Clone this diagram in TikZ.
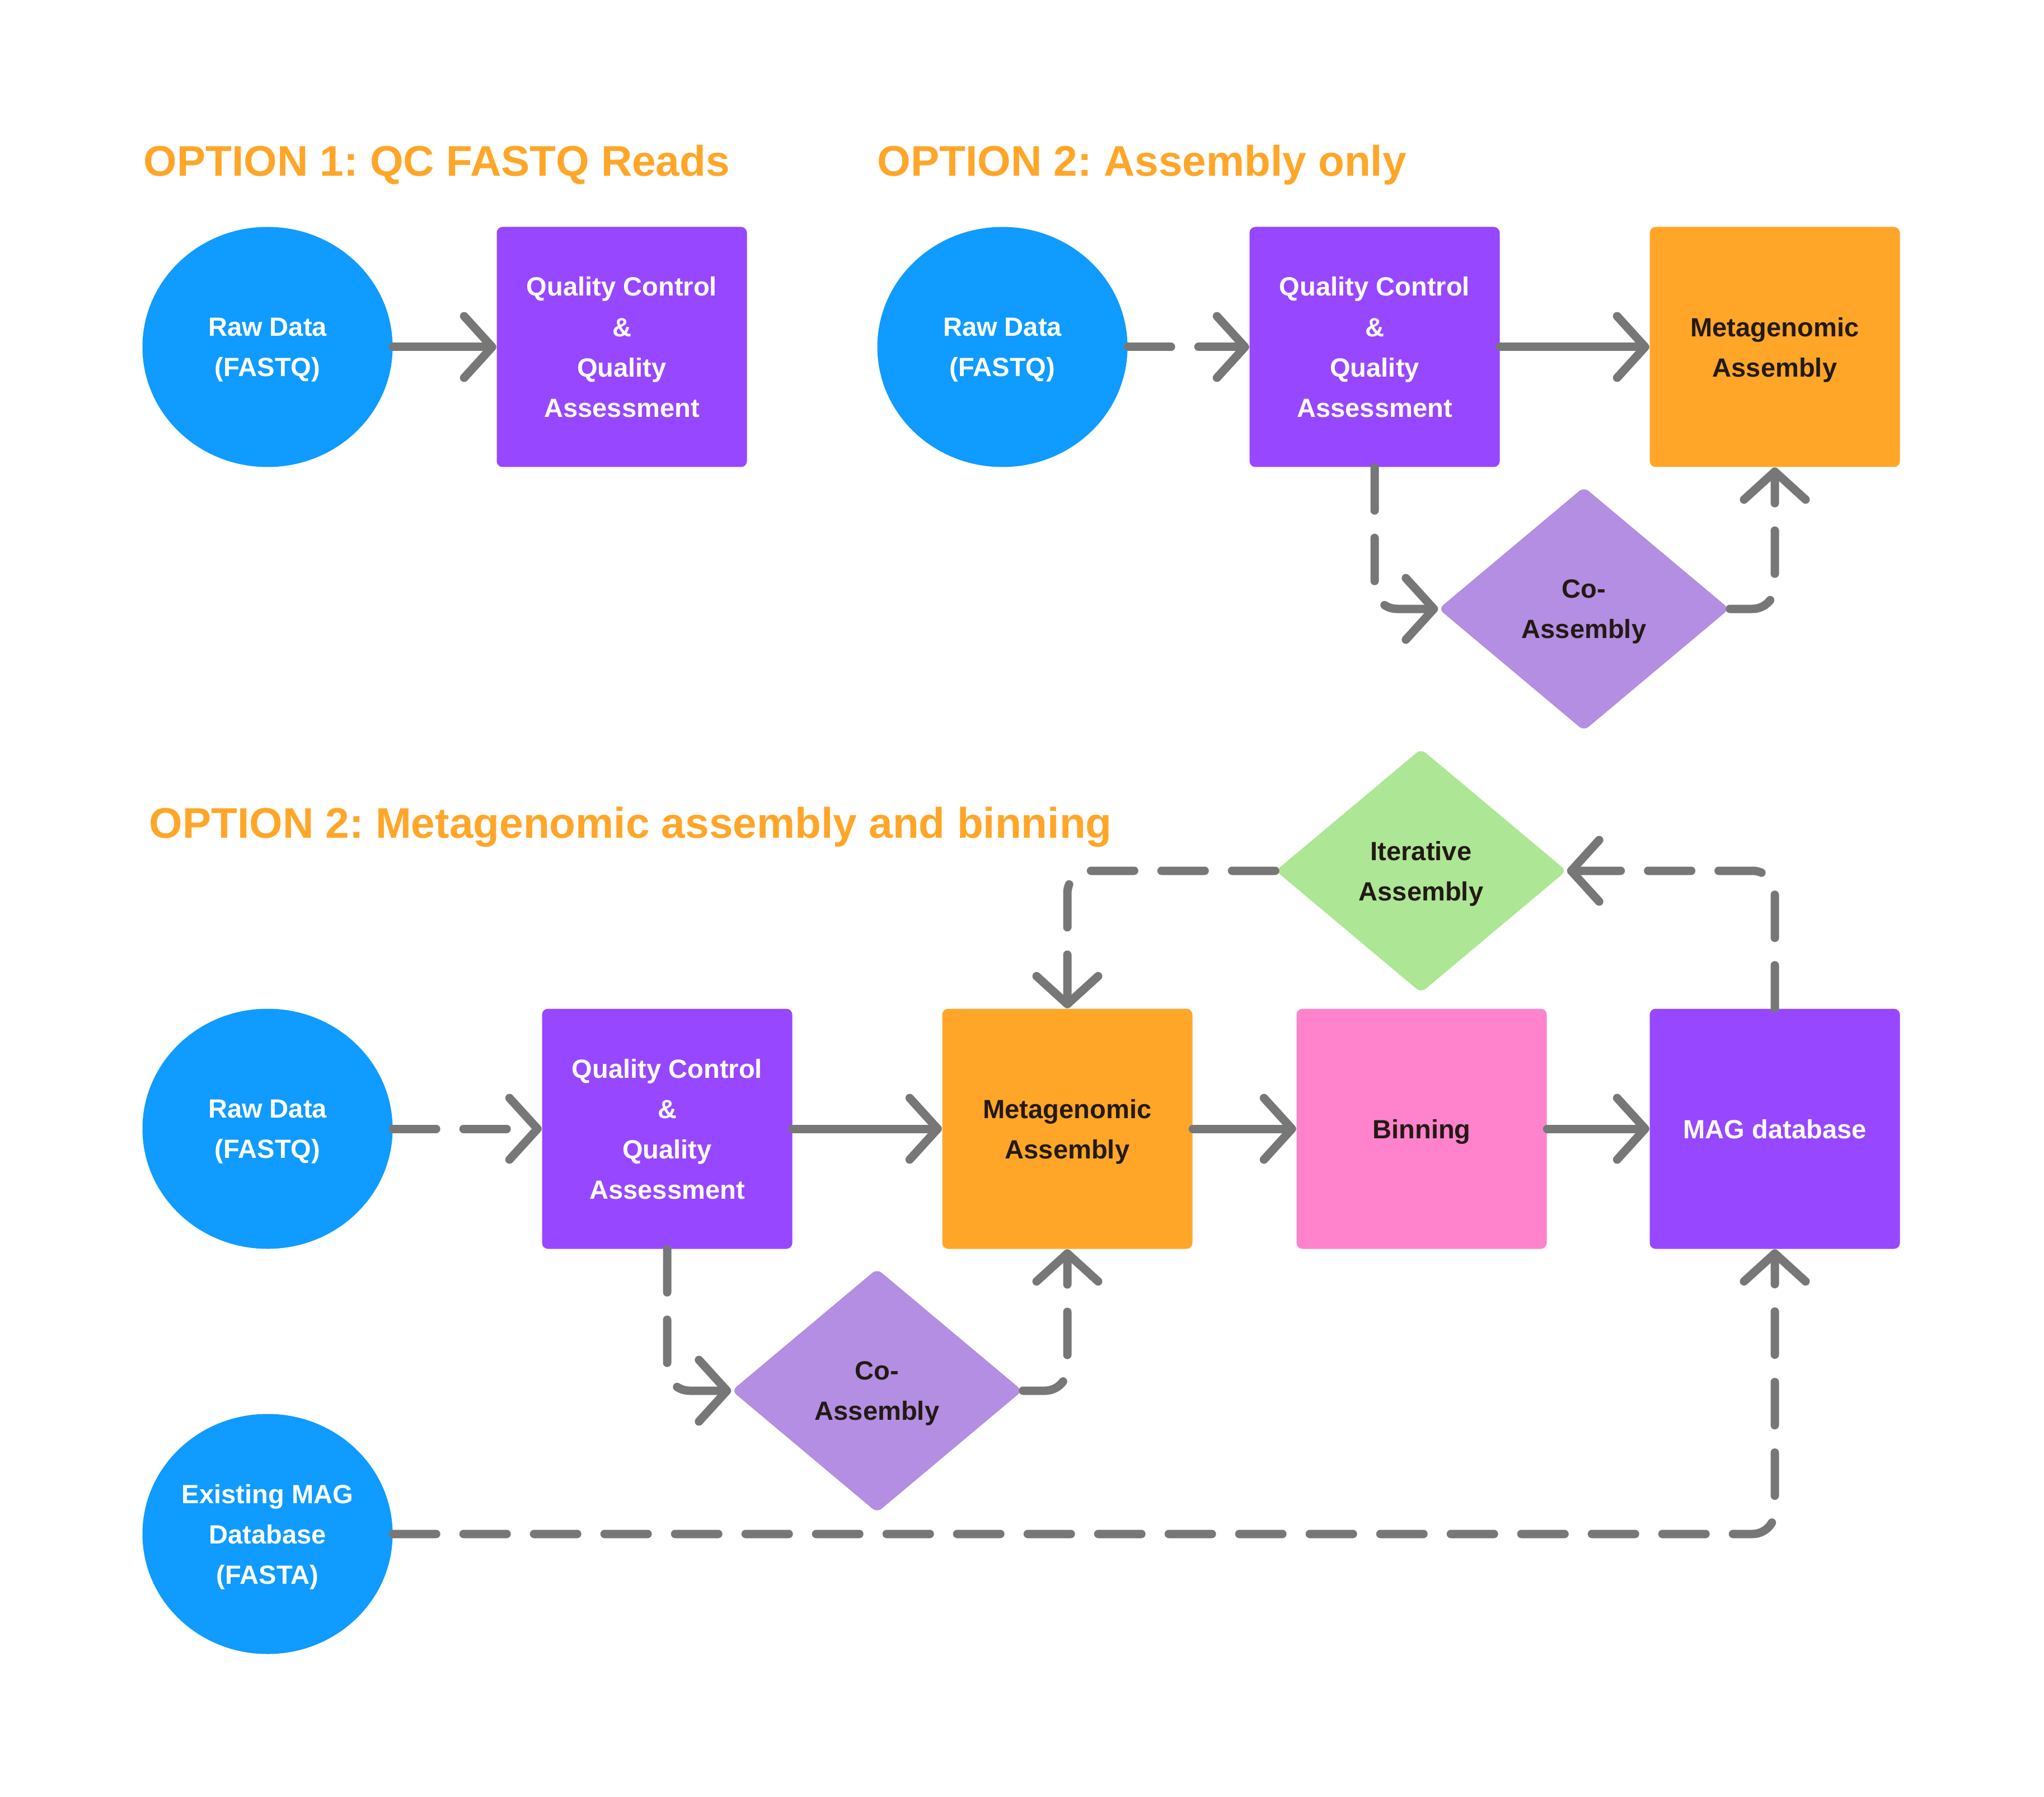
\documentclass[tikz,border=0pt]{standalone}
\usepackage{fontspec}
\setmainfont{Liberation Sans}
\usetikzlibrary{shapes.geometric,arrows.meta}
\definecolor{rawblue}{HTML}{0F9BFF}
\definecolor{qcpurple}{HTML}{9747FF}
\definecolor{asmorange}{HTML}{FFA629}
\definecolor{copurple}{HTML}{B38EE2}
\definecolor{itergreen}{HTML}{ADE694}
\definecolor{binpink}{HTML}{FF82CC}
\definecolor{linkgray}{HTML}{777777}
\definecolor{darktext}{HTML}{231A14}
\frenchspacing
\begin{document}
\begin{tikzpicture}[
  every node/.style={font=\bfseries\fontsize{13.4}{20.5}\selectfont, align=center, inner sep=0pt, text depth=0pt},
  source/.style={fill=rawblue, ellipse, minimum width=4.47cm, minimum height=4.29cm, text=white},
  stepbox/.style={fill=#1, rounded corners=3pt, minimum width=4.47cm, minimum height=4.29cm},
  choice/.style={fill=#1, diamond, rounded corners=3pt, minimum width=5.2cm, minimum height=4.36cm, text=darktext},
  heading/.style={anchor=west, text=asmorange, font=\bfseries\fontsize{21.8}{26}\selectfont},
  link/.style={draw=linkgray, line width=0.15cm, line cap=round, rounded corners=0.4cm, -{Straight Barb[length=0.5cm,width=1.1cm,round]}},
  dashlink/.style={link, dash pattern=on 0.77cm off 0.49cm}
]
\useasboundingbox (0,0) rectangle (36.52,-32.11);

% option 1
\node[heading] (t1) at (2.56,-2.87) {OPTION 1: QC FASTQ Reads};
\node[source] (c1) at (4.78,-6.20) {Raw Data\\(FASTQ)};
\node[stepbox=qcpurple, text=white] (qc1) at (11.11,-6.20) {Quality Control\\\&\\Quality\\Assessment};

\path[link] (c1) -- (qc1);

% option 2
\node[heading] (t2) at (15.67,-2.87) {OPTION 2: Assembly only};
\node[source] (c2) at (17.91,-6.20) {Raw Data\\(FASTQ)};
\node[stepbox=qcpurple, text=white] (qc2) at (24.56,-6.20) {Quality Control\\\&\\Quality\\Assessment};
\node[stepbox=asmorange, text=darktext] (ma2) at (31.71,-6.20) {Metagenomic\\Assembly};
\node[choice=copurple] (co2) at (28.30,-10.88) {Co-\\Assembly};

\path[dashlink] (c2) -- (qc2);
\path[link] (qc2) -- (ma2);
\path[dashlink] (qc2.south) |- (co2.west);
\path[dashlink] (co2.east) -| (ma2.south);

% option 2 with binning
\node[heading] (t3) at (2.66,-14.70) {OPTION 2: Metagenomic assembly and binning};
\node[choice=itergreen] (it) at (25.39,-15.56) {Iterative\\Assembly};
\node[source] (c3) at (4.78,-20.17) {Raw Data\\(FASTQ)};
\node[stepbox=qcpurple, text=white] (qc3) at (11.92,-20.17) {Quality Control\\\&\\Quality\\Assessment};
\node[stepbox=asmorange, text=darktext] (ma3) at (19.07,-20.17) {Metagenomic\\Assembly};
\node[stepbox=binpink, text=darktext] (bin) at (25.40,-20.17) {Binning};
\node[stepbox=qcpurple, text=white] (mag) at (31.71,-20.17) {MAG database};
\node[choice=copurple] (co3) at (15.67,-24.85) {Co-\\Assembly};
\node[source] (c4) at (4.78,-27.41) {Existing MAG\\Database\\(FASTA)};

\path[dashlink] (c3) -- (qc3);
\path[link] (qc3) -- (ma3);
\path[link] (ma3) -- (bin);
\path[link] (bin) -- (mag);
\path[dashlink] (qc3.south) |- (co3.west);
\path[dashlink] (co3.east) -| (ma3.south);
\path[dashlink] (mag.north) |- (it.east);
\path[dashlink] (it.west) -| (ma3.north);
\path[dashlink] (c4.east) -| (mag.south);
\end{tikzpicture}
\end{document}
